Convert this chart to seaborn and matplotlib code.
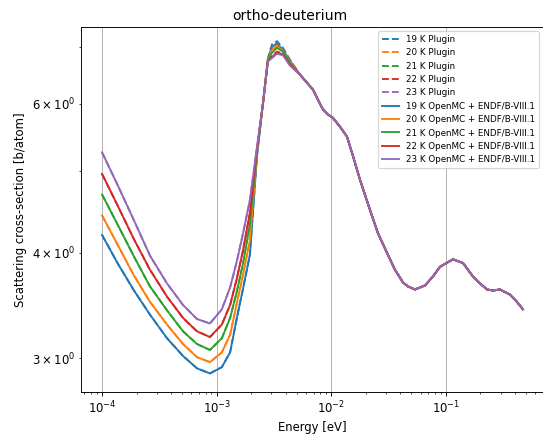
import matplotlib
matplotlib.use("Agg")
import matplotlib.pyplot as plt
import seaborn as sns
import pandas as pd
import numpy as np

# Temperatures (K) and their colours (matplotlib default cycle)
temperatures = [19, 20, 21, 22, 23]
colors = ['tab:blue', 'tab:orange', 'tab:green', 'tab:red', 'tab:purple']

# Energy grid [eV] where the curves differ with temperature
energy_low = [1.00e-4, 1.38e-4, 1.90e-4, 2.62e-4, 3.69e-4, 5.09e-4, 6.74e-4,
              8.74e-4, 1.11e-3, 1.31e-3, 1.50e-3, 1.70e-3, 1.95e-3, 2.25e-3,
              2.54e-3, 2.80e-3, 3.04e-3, 3.36e-3, 3.79e-3, 4.36e-3]

# Energy grid [eV] where all curves coincide
energy_tail = [5.33e-3, 6.92e-3, 7.65e-3, 8.46e-3, 9.35e-3, 1.03e-2, 1.19e-2,
               1.37e-2, 1.55e-2, 1.78e-2, 2.17e-2, 2.55e-2, 3.06e-2, 3.59e-2,
               4.22e-2, 4.66e-2, 5.37e-2, 6.56e-2, 7.70e-2, 8.86e-2, 0.115,
               0.141, 0.172, 0.198, 0.228, 0.257, 0.296, 0.361, 0.416, 0.469]
xs_tail = [6.50, 6.24, 6.07, 5.91, 5.83, 5.78, 5.64,
           5.49, 5.20, 4.88, 4.50, 4.22, 4.00, 3.82,
           3.69, 3.65, 3.62, 3.66, 3.75, 3.85, 3.93,
           3.89, 3.75, 3.68, 3.62, 3.61, 3.62, 3.57, 3.50, 3.43]

# OpenMC + ENDF/B-VIII.1 scattering cross sections [b/atom], low-energy part
openmc_19 = [4.20, 3.88, 3.61, 3.38, 3.17, 3.02, 2.92, 2.88, 2.93, 3.05,
             3.35, 3.63, 3.98, 5.22, 6.02, 6.77, 7.01, 7.08, 6.95, 6.75]
openmc_20 = [4.43, 4.08, 3.76, 3.50, 3.29, 3.12, 3.01, 2.97, 3.05, 3.20,
             3.49, 3.77, 4.14, 5.25, 6.02, 6.77, 6.95, 7.04, 6.93, 6.73]
openmc_21 = [4.69, 4.31, 3.96, 3.65, 3.42, 3.23, 3.12, 3.07, 3.17, 3.35,
             3.60, 3.89, 4.32, 5.28, 6.02, 6.76, 6.90, 6.99, 6.92, 6.71]
openmc_22 = [4.96, 4.54, 4.15, 3.82, 3.55, 3.35, 3.23, 3.18, 3.29, 3.47,
             3.73, 4.03, 4.46, 5.31, 6.02, 6.75, 6.82, 6.90, 6.87, 6.68]
openmc_23 = [5.26, 4.80, 4.37, 3.97, 3.68, 3.47, 3.34, 3.30, 3.43, 3.64,
             3.91, 4.22, 4.62, 5.34, 6.02, 6.74, 6.80, 6.88, 6.85, 6.66]

# Plugin results, low-energy part (same as OpenMC apart from the noisy peak)
plugin_19 = [4.20, 3.88, 3.61, 3.38, 3.17, 3.02, 2.92, 2.88, 2.93, 3.05,
             3.35, 3.63, 3.98, 5.22, 6.04, 6.80, 7.06, 7.12, 6.99, 6.77]
plugin_20 = [4.43, 4.08, 3.76, 3.50, 3.29, 3.12, 3.01, 2.97, 3.05, 3.20,
             3.49, 3.77, 4.14, 5.25, 6.04, 6.80, 6.99, 7.08, 6.96, 6.75]
plugin_21 = [4.69, 4.31, 3.96, 3.65, 3.42, 3.23, 3.12, 3.07, 3.17, 3.35,
             3.60, 3.89, 4.32, 5.28, 6.03, 6.78, 6.93, 7.01, 6.94, 6.72]
plugin_22 = [4.96, 4.54, 4.15, 3.82, 3.55, 3.35, 3.23, 3.18, 3.29, 3.47,
             3.73, 4.03, 4.46, 5.31, 6.03, 6.76, 6.84, 6.92, 6.88, 6.69]
plugin_23 = [5.26, 4.80, 4.37, 3.97, 3.68, 3.47, 3.34, 3.30, 3.43, 3.64,
             3.91, 4.22, 4.62, 5.34, 6.02, 6.74, 6.81, 6.89, 6.86, 6.67]

plugin = [plugin_19, plugin_20, plugin_21, plugin_22, plugin_23]
openmc = [openmc_19, openmc_20, openmc_21, openmc_22, openmc_23]


def build_frame():
    """Long-form table with one row per (source, temperature, energy)"""
    rows = []
    energy = energy_low + energy_tail
    for source, series in [('Plugin', plugin), ('OpenMC + ENDF/B-VIII.1', openmc)]:
        for T, low in zip(temperatures, series):
            for e, xs in zip(energy, low + xs_tail):
                rows.append({'source': source, 'T': T, 'energy': e, 'xs': xs})
    return pd.DataFrame(rows)


def main():
    df = build_frame()

    dpi = 84
    fig = plt.figure(figsize=(543 / dpi, 437 / dpi), dpi=dpi)
    ax = fig.add_axes([0.1492, 0.103, 0.8508, 0.8352])

    # dashed plugin curves first, solid OpenMC curves on top
    for source, ls in [('Plugin', '--'), ('OpenMC + ENDF/B-VIII.1', '-')]:
        for T, c in zip(temperatures, colors):
            sub = df[(df['source'] == source) & (df['T'] == T)]
            sns.lineplot(x=sub['energy'].values, y=sub['xs'].values, ax=ax,
                         color=c, linestyle=ls, linewidth=1.6,
                         label=f'{T} K {source}')

    ax.set_xscale('log')
    ax.set_yscale('log')
    ax.set_xlim(6.56e-5, 0.702)
    ax.set_ylim(2.738, 7.40)
    ax.grid(True)

    ax.set_title('ortho-deuterium', x=0.452)
    ax.set_xlabel('Energy [eV]')
    ax.set_ylabel('Scattering cross-section [b/atom]')
    ax.legend(loc='upper right', fontsize=7.5)

    plt.savefig('out.png', dpi=dpi)
    plt.close()


if __name__ == "__main__":
    main()
